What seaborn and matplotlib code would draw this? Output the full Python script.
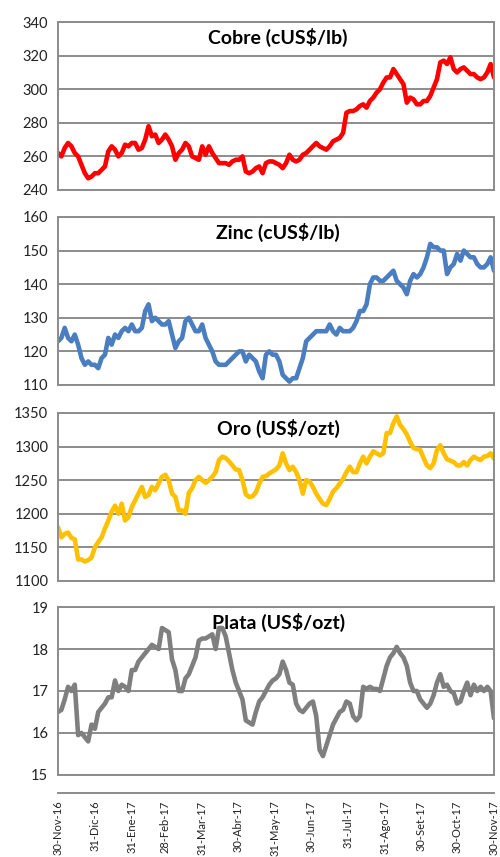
import pandas as pd
import seaborn as sns
import matplotlib.pyplot as plt

# daily-ish readings, 30-Nov-16 .. 30-Nov-17, evenly spaced
cobre = [262, 260, 265, 268, 266, 262, 260, 255, 250, 247,
         248, 250, 250, 252, 254, 263, 266, 264, 260, 262,
         267, 266, 268, 268, 264, 265, 270, 278, 272, 273,
         268, 270, 273, 270, 266, 258, 262, 264, 268, 266,
         260, 259, 258, 266, 261, 266, 262, 259, 256, 256,
         256, 255, 257, 258, 258, 260, 251, 250, 251, 253,
         254, 250, 256, 257, 257, 256, 255, 253, 256, 261,
         258, 257, 258, 261, 262, 264, 266, 268, 266, 265,
         264, 266, 269, 270, 271, 274, 286, 287, 287, 288,
         290, 291, 289, 293, 295, 298, 300, 304, 307, 307,
         312, 309, 306, 303, 292, 295, 294, 291, 291, 293,
         293, 296, 301, 306, 316, 317, 315, 319, 312, 310,
         312, 313, 311, 309, 309, 307, 306, 307, 310, 315,
         307]

zinc = [123, 124, 127, 124, 123, 125, 122, 118, 116, 117,
        116, 116, 115, 118, 119, 124, 122, 125, 124, 126,
        127, 126, 128, 126, 126, 127, 132, 134, 129, 130,
        129, 128, 128, 129, 125, 121, 123, 124, 129, 130,
        128, 126, 126, 128, 124, 122, 120, 117, 116, 116,
        116, 117, 118, 119, 120, 120, 117, 119, 118, 117,
        114, 112, 119, 120, 119, 119, 117, 113, 112, 111,
        112, 112, 115, 118, 123, 124, 125, 126, 126, 126,
        126, 128, 126, 125, 127, 126, 126, 126, 127, 129,
        132, 132, 134, 140, 142, 142, 141, 141, 142, 143,
        144, 141, 140, 139, 137, 141, 143, 142, 143, 145,
        148, 152, 151, 151, 150, 150, 143, 145, 146, 149,
        147, 150, 149, 148, 148, 146, 145, 145, 146, 148,
        144]

oro = [1180, 1165, 1170, 1172, 1164, 1162, 1132, 1132, 1129, 1131,
       1135, 1150, 1158, 1165, 1178, 1190, 1203, 1212, 1200, 1215,
       1190, 1195, 1210, 1220, 1230, 1240, 1225, 1228, 1240, 1235,
       1245, 1255, 1258, 1250, 1230, 1225, 1205, 1205, 1200, 1231,
       1238, 1250, 1255, 1250, 1246, 1250, 1255, 1262, 1280, 1285,
       1283, 1278, 1272, 1266, 1265, 1250, 1229, 1225, 1226, 1232,
       1245, 1255, 1256, 1260, 1263, 1266, 1272, 1290, 1275, 1265,
       1270, 1262, 1250, 1230, 1250, 1248, 1240, 1230, 1222, 1215,
       1213, 1222, 1233, 1238, 1245, 1252, 1262, 1270, 1262, 1262,
       1275, 1285, 1275, 1285, 1293, 1290, 1287, 1290, 1320, 1320,
       1335, 1345, 1332, 1326, 1318, 1307, 1298, 1296, 1295, 1283,
       1272, 1268, 1275, 1295, 1302, 1290, 1281, 1279, 1277, 1272,
       1272, 1277, 1272, 1280, 1285, 1282, 1280, 1285, 1286, 1290,
       1282]

plata = [16.5, 16.55, 16.8, 17.1, 17.0, 17.15, 15.95, 16.0, 15.9, 15.8,
         16.2, 16.1, 16.5, 16.6, 16.7, 16.85, 16.85, 17.25, 17.0, 17.15,
         17.1, 17.0, 17.5, 17.5, 17.7, 17.8, 17.9, 18.0, 18.1, 18.05,
         18.0, 18.5, 18.45, 18.4, 17.75, 17.5, 17.0, 17.0, 17.3, 17.4,
         17.6, 17.8, 18.2, 18.25, 18.25, 18.3, 18.35, 18.0, 18.5, 18.5,
         18.3, 17.9, 17.5, 17.2, 17.0, 16.8, 16.3, 16.25, 16.2, 16.5,
         16.75, 16.85, 17.0, 17.15, 17.25, 17.3, 17.4, 17.7, 17.5, 17.2,
         17.15, 16.7, 16.55, 16.5, 16.6, 16.7, 16.75, 16.4, 15.6, 15.45,
         15.7, 15.95, 16.2, 16.35, 16.5, 16.55, 16.75, 16.7, 16.4, 16.3,
         16.4, 17.1, 17.05, 17.1, 17.05, 17.05, 17.0, 17.3, 17.6, 17.8,
         17.9, 18.05, 17.9, 17.8, 17.6, 17.2, 17.0, 17.0, 16.8, 16.7,
         16.6, 16.7, 16.9, 17.2, 17.4, 17.1, 17.15, 17.0, 16.95, 16.7,
         16.75, 17.0, 17.2, 16.9, 17.15, 17.0, 17.1, 17.0, 17.1, 17.0,
         16.35]

titulos = ['Cobre (cUS$/lb)', 'Zinc (cUS$/lb)', 'Oro (US$/ozt)', 'Plata (US$/ozt)']
colores = ['#FF0000', '#4A7EC0', '#FFC000', '#7F7F7F']
y_ticks = [[240, 260, 280, 300, 320, 340],
           [110, 120, 130, 140, 150, 160],
           [1100, 1150, 1200, 1250, 1300, 1350],
           [15, 16, 17, 18, 19]]

tick_fechas = ['2016-11-30', '2016-12-31', '2017-01-31', '2017-02-28', '2017-03-31',
               '2017-04-30', '2017-05-31', '2017-06-30', '2017-07-31', '2017-08-31',
               '2017-09-30', '2017-10-30', '2017-11-30']
tick_labels = ['30-Nov-16', '31-Dic-16', '31-Ene-17', '28-Feb-17', '31-Mar-17',
               '30-Abr-17', '31-May-17', '30-Jun-17', '31-Jul-17', '31-Ago-17',
               '30-Set-17', '30-Oct-17', '30-Nov-17']

sns.set_style('white')
plt.rcParams['font.family'] = ['Lato', 'DejaVu Sans']

GRIS = '#8C8C8C'
inicio, fin = pd.Timestamp('2016-11-30'), pd.Timestamp('2017-11-30')

fig = plt.figure(figsize=(5, 8.57), dpi=100)
tops = [0.9743, 0.7468, 0.5181, 0.2917]
alto = 0.196

for i, serie in enumerate([cobre, zinc, oro, plata]):
    ax = fig.add_axes([0.116, tops[i] - alto, 0.872, alto])
    fechas = pd.date_range(inicio, fin, periods=len(serie))
    df = pd.DataFrame({'fecha': fechas, 'valor': serie})
    sns.lineplot(data=df, x='fecha', y='valor', ax=ax, color=colores[i], linewidth=3.3)
    ax.set_xlim(inicio, fin)
    ax.set_ylim(y_ticks[i][0], y_ticks[i][-1])
    ax.set_yticks(y_ticks[i])
    ax.set_xticks([])
    ax.set_xlabel('')
    ax.set_ylabel('')
    ax.yaxis.grid(True, color=GRIS, linewidth=1.4)
    ax.set_axisbelow(True)
    for s in ax.spines.values():
        s.set_color(GRIS)
        s.set_linewidth(1.4)
    ax.tick_params(axis='y', length=5, width=1.2, color=GRIS, labelsize=10.5,
                   labelcolor='#222222', pad=2)
    ax.text(0.505, 0.91, titulos[i], transform=ax.transAxes, ha='center', va='center',
            fontsize=14, fontweight='bold', color='black')

# date axis at the bottom
axd = fig.add_axes([0.116, 0.0747, 0.872, 0.0001])
axd.set_xlim(inicio, fin)
axd.set_yticks([])
for s in ['left', 'right', 'top']:
    axd.spines[s].set_visible(False)
axd.spines['bottom'].set_color(GRIS)
axd.spines['bottom'].set_linewidth(1.4)
axd.set_xticks(pd.to_datetime(tick_fechas))
axd.set_xticklabels(tick_labels, rotation=90, fontsize=8, color='#222222')
axd.tick_params(axis='x', length=5, width=1.2, color=GRIS, direction='inout', pad=3)

fig.savefig('out.png', dpi=100)
